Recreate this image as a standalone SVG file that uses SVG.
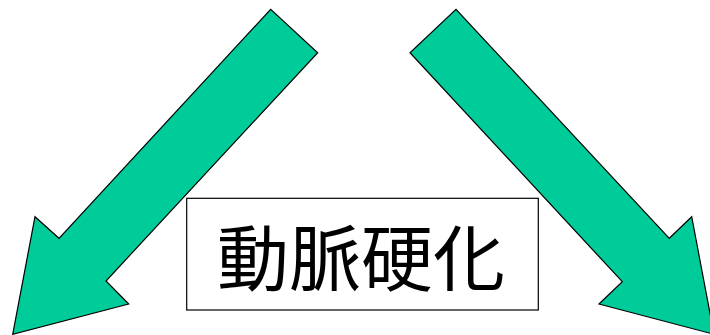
<svg xmlns="http://www.w3.org/2000/svg" width="710" height="335" viewBox="0 0 710 335">
<style>
.arrow{fill:#00CC99;stroke:#000;stroke-width:1.2;stroke-linejoin:miter}
.box{fill:#fff;stroke:#000;stroke-width:1.2}
.label{font-family:"Noto Sans CJK JP","Noto Sans CJK SC",sans-serif;font-size:72px;fill:#000;text-anchor:middle}
</style>
<rect width="710" height="335" fill="#fff"/>
<g id="connectors">
<polygon id="arrow-left" class="arrow" points="12.7,334.3 35,216.7 59,238.3 270.7,9.3 317.7,52.7 106,281 128.7,304"/>
<polygon id="arrow-right" class="arrow" points="714,334.3 691.7,216.7 669.3,238.3 456,9.3 410,52.7 622.3,281.7 599,304"/>
</g>
<g id="node-arteriosclerosis">
<rect class="box" x="186.7" y="198.3" width="351.6" height="111.7"/>
<text class="label" x="361" y="285">動脈硬化</text>
</g>
</svg>
